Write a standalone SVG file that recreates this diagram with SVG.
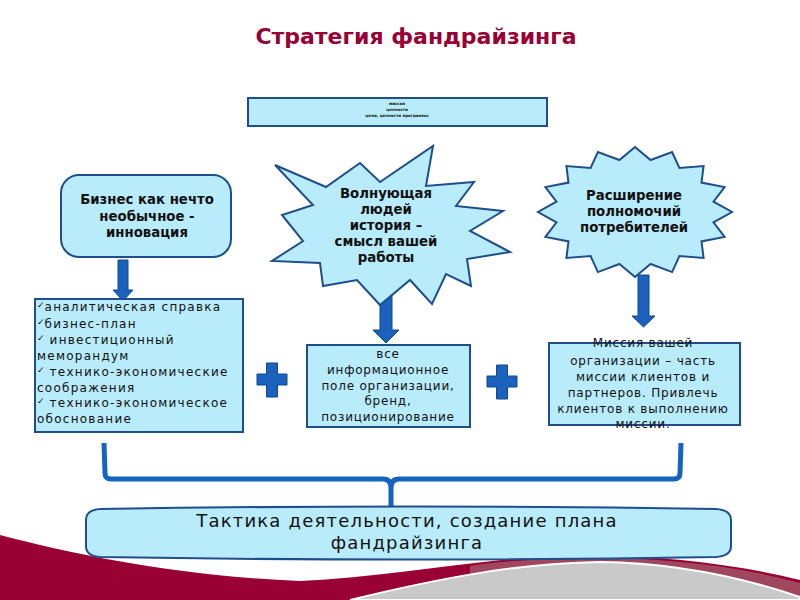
<svg xmlns="http://www.w3.org/2000/svg" width="800" height="600" viewBox="0 0 800 600">
<style>
.box{fill:#b9ecfa;stroke:#1f4e8c;stroke-width:2}
.arr{fill:#1a62be;stroke:#0f4a8a;stroke-width:1}
.b{font-family:"DejaVu Sans",sans-serif;font-weight:bold;font-size:13.3px;fill:#111;text-anchor:middle}
.n{font-family:"DejaVu Sans",sans-serif;font-size:12px;fill:#111;letter-spacing:0.8px}
.l{letter-spacing:1.25px}
.c{text-anchor:middle}
.ck{font-size:9px;letter-spacing:0}
</style>
<rect width="800" height="600" fill="#ffffff"/>
<g id="background">
<path d="M0,535 C80,556 180,576 300,581 C380,577 460,563 540,556 C650,552 740,565 800,580 L800,600 L0,600 Z" fill="#990033"/>
<path d="M470,566 C560,553 690,553 800,583 L800,600 L470,600 Z" fill="#a0475f"/>
<path d="M350,600 C440,578 520,563 600,562 C680,563 750,580 800,597 L800,600 Z" fill="#c9c9c9" stroke="#ffffff" stroke-width="2"/>
</g>
<text x="416" y="44" font-family="DejaVu Sans, sans-serif" font-weight="bold" font-size="22" fill="#990033" text-anchor="middle">Стратегия фандрайзинга</text>
<g id="mission">
<rect class="box" x="248" y="98" width="299" height="28"/>
<text font-family="DejaVu Sans, sans-serif" font-weight="bold" font-size="4" fill="#111" text-anchor="middle"><tspan x="397" y="105">миссия</tspan><tspan x="397" y="111">ценности</tspan><tspan x="397" y="117">цели, ценности программы</tspan></text>
</g>
<g id="connectors">
<path class="arr" d="M118,260 L128,260 L128,290 L133,290 L123,301 L113,290 L118,290 Z"/>
<path class="arr" d="M380,287 L392,287 L392,330 L399,330 L386,343 L373,330 L380,330 Z"/>
<path class="arr" d="M638,275 L649,275 L649,316 L655,316 L643.5,327 L632,316 L638,316 Z"/>
<path class="arr" d="M266.5,363 h11 v11 h9.5 v11 h-9.5 v12 h-11 v-12 h-9.5 v-11 h9.5 Z"/>
<path class="arr" d="M496.5,365 h11 v11 h9.5 v11 h-9.5 v12 h-11 v-12 h-9.5 v-11 h9.5 Z"/>
<path d="M104,443 L105,473 Q105,479 111,479 L383,479 Q391,479 391,488 L391,510 M391,488 Q391,479 399,479 L674,479 Q680,479 680,473 L681,443" fill="none" stroke="#1565c0" stroke-width="5" stroke-linejoin="round"/>
</g>
<g id="business">
<rect class="box" x="61" y="175" width="170" height="82" rx="18"/>
<text class="b"><tspan x="147" y="204">Бизнес как нечто</tspan><tspan x="147" y="221">необычное -</tspan><tspan x="147" y="237">инновация</tspan></text>
</g>
<g id="story">
<polygon class="box" points="275,165 326,187 360,163 380,182 433,146 426,186 474,182 456,206 503,211 470,231 510,252 467,259 471,286 446,274 432,304 410,280 380,305 357,280 323,286 320,263 272,261 303,241 282,215 313,205"/>
<text class="b"><tspan x="386" y="198">Волнующая</tspan><tspan x="386" y="214">людей</tspan><tspan x="386" y="230">история –</tspan><tspan x="386" y="246">смысл вашей</tspan><tspan x="386" y="262">работы</tspan></text>
</g>
<g id="empower">
<polygon class="box" points="635,147 650.6,160 672.1,152 679.4,167.9 703.6,166 701.5,182.6 724.6,187.1 713.5,201.7 732,212 713.5,222.3 724.6,236.9 701.5,241.4 703.6,258 679.4,256.1 672.1,272.1 650.6,264 635,277 619.4,264 597.9,272.1 590.6,256.1 566.4,258 568.5,241.4 545.4,236.9 556.5,222.3 538,212 556.5,201.7 545.4,187.1 568.5,182.6 566.4,166 590.6,167.9 597.9,152 619.4,160"/>
<text class="b"><tspan x="634" y="200">Расширение</tspan><tspan x="634" y="216">полномочий</tspan><tspan x="634" y="232">потребителей</tspan></text>
</g>
<g id="docs">
<rect class="box" x="35" y="299" width="208" height="133"/>
<text class="n l"><tspan x="37" y="311"><tspan class="ck" dy="-3">✓</tspan><tspan dy="3">аналитическая справка</tspan></tspan><tspan x="37" y="328"><tspan class="ck" dy="-3">✓</tspan><tspan dy="3">бизнес-план</tspan></tspan><tspan x="37" y="344"><tspan class="ck" dy="-3">✓</tspan><tspan dy="3"> инвестиционный</tspan></tspan><tspan x="37" y="360">меморандум</tspan><tspan x="37" y="376"><tspan class="ck" dy="-3">✓</tspan><tspan dy="3"> технико-экономические</tspan></tspan><tspan x="37" y="392">соображения</tspan><tspan x="37" y="407"><tspan class="ck" dy="-3">✓</tspan><tspan dy="3"> технико-экономическое</tspan></tspan><tspan x="37" y="423">обоснование</tspan></text>
</g>
<g id="info">
<rect class="box" x="307" y="345" width="163" height="82"/>
<text class="n c"><tspan x="388" y="358">все</tspan><tspan x="388" y="374">информационное</tspan><tspan x="388" y="390">поле организации,</tspan><tspan x="388" y="405">бренд,</tspan><tspan x="388" y="421">позиционирование</tspan></text>
</g>
<g id="mission-text">
<rect class="box" x="549" y="343" width="191" height="82"/>
<text class="n c"><tspan x="643" y="347">Миссия вашей</tspan><tspan x="643" y="365">организации – часть</tspan><tspan x="643" y="381">миссии клиентов и</tspan><tspan x="643" y="397">партнеров. Привлечь</tspan><tspan x="643" y="413">клиентов к выполнению</tspan><tspan x="643" y="428">миссии.</tspan></text>
</g>
<g id="tactics">
<path class="box" d="M100,509 Q408,504 716,509 Q731,510 731,520 L731,546 Q731,556 716,557 Q408,562 100,557 Q86,556 86,546 L86,520 Q86,510 100,509 Z"/>
<text font-family="DejaVu Sans, sans-serif" font-size="18" fill="#111" text-anchor="middle" letter-spacing="1.2"><tspan x="407" y="527">Тактика деятельности, создание плана</tspan><tspan x="407" y="549">фандрайзинга</tspan></text>
</g>
</svg>
